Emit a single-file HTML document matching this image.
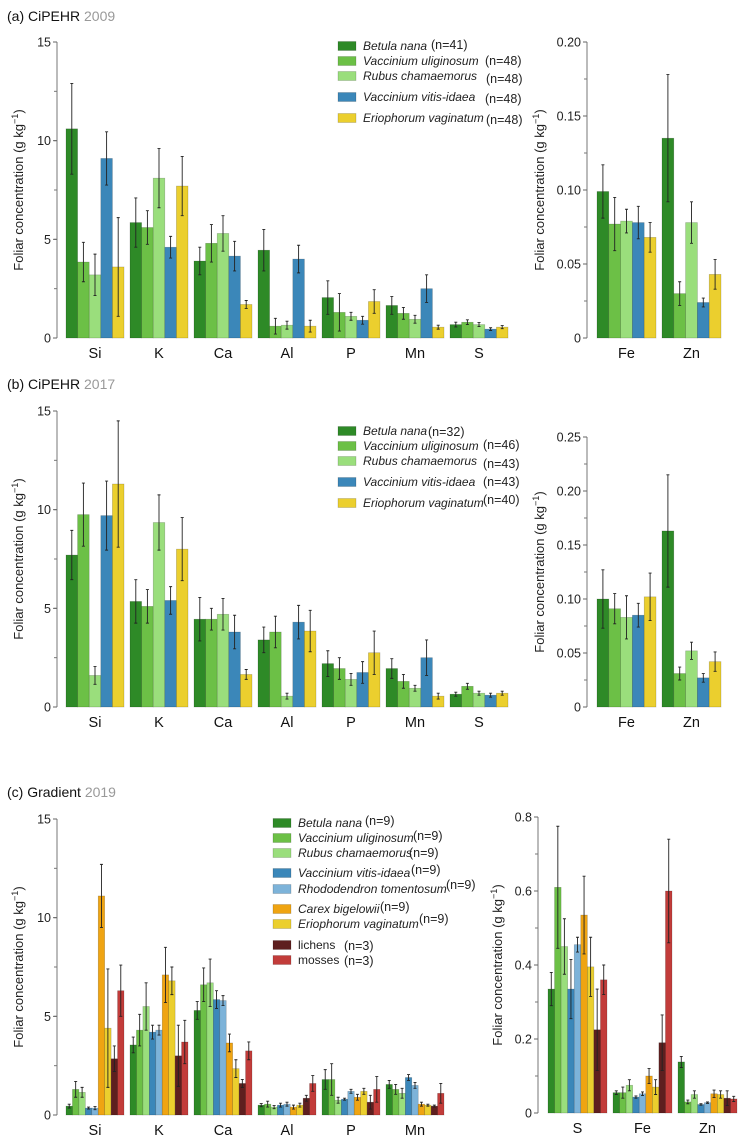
<!DOCTYPE html>
<html><head><meta charset="utf-8">
<style>
html,body{margin:0;padding:0;background:#fff;}
svg{display:block;font-family:"Liberation Sans","DejaVu Sans",sans-serif;}
</style></head>
<body>
<svg id="chart" width="746" height="1143" viewBox="0 0 746 1143" xmlns="http://www.w3.org/2000/svg">
<text x="7" y="21" font-size="14" fill="#111">(a) CiPEHR <tspan fill="#999">2009</tspan></text>
<text x="7" y="389" font-size="14" fill="#111">(b) CiPEHR <tspan fill="#999">2017</tspan></text>
<text x="7" y="797" font-size="14" fill="#111">(c) Gradient <tspan fill="#999">2019</tspan></text>
</svg>
<script>
// ---------- data ----------
const leftCats = ["Si","K","Ca","Al","P","Mn","S"];
const rightCatsAB = ["Fe","Zn"];
const leftCatsC = ["Si","K","Ca","Al","P","Mn"];
const rightCatsC = ["S","Fe","Zn"];
const speciesAB = ["Betula nana","Vaccinium uliginosum","Rubus chamaemorus","Vaccinium vitis-idaea","Eriophorum vaginatum"];
const speciesC = ["Betula nana","Vaccinium uliginosum","Rubus chamaemorus","Vaccinium vitis-idaea","Rhododendron tomentosum","Carex bigelowii","Eriophorum vaginatum","lichens","mosses"];
const colorsAB = ["#2e8a27","#6cc046","#9ade7c","#3b87b9","#ebcf2e"];
const colorsC = ["#2e8a27","#6cc046","#9ade7c","#3b87b9","#7db3d9","#efa412","#ebcf2e","#5e1f1f","#c23c3a"];

// (a) 2009 — rows = categories, cols = species
const aLeftVals = [[10.6,3.85,3.2,9.1,3.6],[5.85,5.6,8.1,4.6,7.7],[3.9,4.8,5.3,4.15,1.7],[4.45,0.6,0.65,4.0,0.6],[2.05,1.3,1.1,0.9,1.85],[1.65,1.25,0.95,2.5,0.55],[0.68,0.8,0.68,0.45,0.55]];
const aLeftErrs = [[2.3,1.0,1.05,1.35,2.5],[1.25,0.85,1.5,0.55,1.5],[0.7,0.95,0.9,0.75,0.2],[1.05,0.4,0.2,0.7,0.3],[0.85,0.95,0.2,0.2,0.6],[0.45,0.3,0.2,0.7,0.1],[0.12,0.12,0.1,0.07,0.08]];
const aRightVals = [[0.099,0.077,0.079,0.078,0.068],[0.135,0.030,0.078,0.024,0.043]];
const aRightErrs = [[0.018,0.018,0.008,0.011,0.010],[0.043,0.008,0.014,0.003,0.010]];
const aN = ["(n=41)","(n=48)","(n=48)","(n=48)","(n=48)"];

// (b) 2017
const bLeftVals = [[7.7,9.75,1.6,9.7,11.3],[5.35,5.1,9.35,5.4,8.0],[4.45,4.45,4.7,3.8,1.65],[3.4,3.8,0.55,4.3,3.85],[2.2,1.95,1.4,1.75,2.75],[1.95,1.3,0.95,2.5,0.55],[0.65,1.05,0.7,0.6,0.7]];
const bLeftErrs = [[1.25,1.6,0.45,1.75,3.2],[1.1,0.85,1.4,0.7,1.6],[1.1,0.55,0.8,0.85,0.25],[0.65,0.8,0.15,0.85,1.05],[0.65,0.55,0.3,0.55,1.1],[0.5,0.35,0.15,0.9,0.15],[0.1,0.15,0.1,0.1,0.1]];
const bRightVals = [[0.100,0.091,0.083,0.085,0.102],[0.163,0.031,0.052,0.027,0.042]];
const bRightErrs = [[0.027,0.014,0.020,0.011,0.022],[0.052,0.006,0.008,0.004,0.009]];
const bN = ["(n=32)","(n=46)","(n=43)","(n=43)","(n=40)"];

// (c) 2019
const cLeftVals = [[0.45,1.3,1.15,0.35,0.35,11.1,4.4,2.85,6.3],[3.55,4.3,5.5,4.2,4.3,7.1,6.8,3.0,3.7],[5.3,6.6,6.7,5.85,5.8,3.65,2.35,1.6,3.25],[0.5,0.55,0.4,0.5,0.55,0.4,0.5,0.85,1.6],[1.8,1.8,0.75,0.8,1.2,0.9,1.2,0.65,1.3],[1.55,1.3,1.1,1.9,1.5,0.55,0.5,0.45,1.1]];
const cLeftErrs = [[0.1,0.4,0.25,0.05,0.08,1.6,3.0,0.65,1.3],[0.4,0.8,1.2,0.35,0.25,1.4,0.7,1.55,1.1],[0.45,0.85,1.2,0.45,0.25,0.45,0.45,0.2,0.45],[0.08,0.15,0.08,0.1,0.1,0.1,0.1,0.15,0.4],[0.5,0.8,0.15,0.05,0.1,0.15,0.15,0.35,0.65],[0.2,0.25,0.25,0.15,0.15,0.1,0.05,0.05,0.5]];
const cRightVals = [[0.335,0.61,0.45,0.335,0.455,0.535,0.395,0.225,0.36],[0.055,0.055,0.075,0.043,0.052,0.10,0.07,0.19,0.60],[0.138,0.03,0.05,0.023,0.028,0.052,0.05,0.04,0.038]];
const cRightErrs = [[0.045,0.165,0.075,0.08,0.02,0.105,0.08,0.11,0.04],[0.005,0.015,0.015,0.003,0.005,0.02,0.02,0.075,0.14],[0.015,0.005,0.01,0.002,0.002,0.01,0.01,0.02,0.007]];
const cN = ["(n=9)","(n=9)","(n=9)","(n=9)","(n=9)","(n=9)","(n=9)","(n=3)","(n=3)"];

const leftTicks = [0,5,10,15];
const aRightTicks = [0,0.05,0.10,0.15,0.20];
const aRightTickLabels = ["0","0.05","0.10","0.15","0.20"];
const bRightTicks = [0,0.05,0.10,0.15,0.20,0.25];
const bRightTickLabels = ["0","0.05","0.10","0.15","0.20","0.25"];
const cRightTicks = [0,0.2,0.4,0.6,0.8];
const cRightTickLabels = ["0","0.2","0.4","0.6","0.8"];

// ---------- drawing ----------
const NS = "http://www.w3.org/2000/svg";
const svg = document.getElementById("chart");
function mk(tag, attrs, parent){
  const e = document.createElementNS(NS, tag);
  for (const k in attrs) e.setAttribute(k, attrs[k]);
  (parent||svg).appendChild(e);
  return e;
}

function panel(p){
  const g = mk("g", {});
  
  
  const yScale = v => p.y0 - (v / p.max) * (p.y0 - p.yTop);
  const ax = mk("line", {x1:p.ax, x2:p.ax, y1:p.yTop, y2:p.y0, stroke:"#777", "stroke-width":1}, g);
  
  
  for (let v = 0; v <= p.max + 1e-9; v += p.minor){
    mk("line", {x1:p.ax-3, x2:p.ax, y1:yScale(v), y2:yScale(v), stroke:"#777", "stroke-width":1}, g);
  }
  p.ticks.forEach((t,i) => {
    mk("line", {x1:p.ax-4, x2:p.ax, y1:yScale(t), y2:yScale(t), stroke:"#666", "stroke-width":1}, g);
    const tl = mk("text", {x:p.ax-6, y:yScale(t)+p.fs*0.36, "font-size":p.fs, "text-anchor":"end", fill:"#222"}, g);
    tl.textContent = p.tickLabels[i];
    
    
  });
  const midY = (p.yTop + p.y0) / 2;
  const yt = mk("text", {x:p.ytx, y:midY, "font-size":p.tfs, "text-anchor":"middle", fill:"#222", transform:`rotate(-90 ${p.ytx} ${midY})`}, g);
  
  
  yt.appendChild(document.createTextNode("Foliar concentration (g kg"));
  const sup = mk("tspan", {"font-size":p.tfs*0.7, dy:-p.tfs*0.4}, yt); sup.textContent = "−1";
  const cl = mk("tspan", {dy:p.tfs*0.4}, yt); cl.textContent = ")";
  const nS = p.colors.length;
  const bw = p.gw / nS;
  p.cats.forEach((c, ci) => {
    const gx = p.gx + ci * p.pitch;
    p.vals[ci].forEach((v, si) => {
      const x = gx + si * bw;
      const y = yScale(v);
      const r = mk("rect", {x:x, y:y, width:bw, height:p.y0 - y, fill:p.colors[si], stroke:"rgba(0,0,0,0.25)", "stroke-width":0.6}, g);
      
      
      const e = p.errs[ci][si];
      const cx = x + bw/2;
      const eb = mk("path", {d:`M${cx} ${yScale(v+e)}V${yScale(Math.max(0,v-e))}M${cx-1.5} ${yScale(v+e)}H${cx+1.5}M${cx-1.5} ${yScale(Math.max(0,v-e))}H${cx+1.5}`, stroke:"#222", "stroke-width":0.9, fill:"none"}, g);
      
      
    });
    const xl = mk("text", {x:gx + p.gw/2, y:p.y0 + p.xlo, "font-size":p.xfs, "text-anchor":"middle", fill:"#111"}, g);
    xl.textContent = c;
    
    
  });
}

function legend(name, entries, colors, ns, rows, nx, ndy){
  const g = mk("g", {});
  
  
  entries.forEach((s, i) => {
    const y = rows[i];
    const sw = mk("rect", {x:rows.sx, y:y-4.5, width:18, height:9, fill:colors[i], stroke:"rgba(0,0,0,0.25)", "stroke-width":0.6}, g);
    
    
    const italic = !(s === "lichens" || s === "mosses");
    const t = mk("text", {x:rows.sx+25, y:y+4, "font-size":12, "font-style":italic?"italic":"normal", fill:"#222"}, g);
    t.textContent = s;
    
    
    const n = mk("text", {x:nx[i], y:y+4+ndy[i], "font-size":12.5, fill:"#222"}, g);
    n.textContent = ns[i];
    
    
  });
}

// (a)
panel({name:"panel-a-main", ax:57, yTop:42, y0:338, max:15, minor:2.5, ticks:leftTicks, tickLabels:leftTicks.map(String), fs:12.5, tfs:13, ytx:23,
  gx:66, pitch:64, gw:58, cats:leftCats, vals:aLeftVals, errs:aLeftErrs, colors:colorsAB, xlo:20, xfs:14.5});
panel({name:"panel-a-fe-zn", ax:587, yTop:42, y0:338, max:0.20, minor:0.025, ticks:aRightTicks, tickLabels:aRightTickLabels, fs:12.5, tfs:13, ytx:544,
  gx:597, pitch:65, gw:59, cats:rightCatsAB, vals:aRightVals, errs:aRightErrs, colors:colorsAB, xlo:20, xfs:14.5});
const aRows = [46,61,76,97,118]; aRows.sx = 338;
legend("legend-a", speciesAB, colorsAB, aN, aRows, [431,485,486,485,486], [-1,0,3,2,2]);

// (b)
panel({name:"panel-b-main", ax:57, yTop:411, y0:707, max:15, minor:2.5, ticks:leftTicks, tickLabels:leftTicks.map(String), fs:12.5, tfs:13, ytx:23,
  gx:66, pitch:64, gw:58, cats:leftCats, vals:bLeftVals, errs:bLeftErrs, colors:colorsAB, xlo:20, xfs:14.5});
panel({name:"panel-b-fe-zn", ax:587, yTop:437, y0:707, max:0.25, minor:0.025, ticks:bRightTicks, tickLabels:bRightTickLabels, fs:12.5, tfs:13, ytx:544,
  gx:597, pitch:65, gw:59, cats:rightCatsAB, vals:bRightVals, errs:bRightErrs, colors:colorsAB, xlo:20, xfs:14.5});
const bRows = [431,446,461,482,503]; bRows.sx = 338;
legend("legend-b", speciesAB, colorsAB, bN, bRows, [428,483,483,483,483], [1,-1,3,0,-3]);

// (c)
panel({name:"panel-c-main", ax:57, yTop:819, y0:1115, max:15, minor:2.5, ticks:leftTicks, tickLabels:leftTicks.map(String), fs:12.5, tfs:13, ytx:23,
  gx:66, pitch:64, gw:58, cats:leftCatsC, vals:cLeftVals, errs:cLeftErrs, colors:colorsC, xlo:20, xfs:14.5});
panel({name:"panel-c-s-fe-zn", ax:538, yTop:817, y0:1113, max:0.8, minor:0.1, ticks:cRightTicks, tickLabels:cRightTickLabels, fs:12.5, tfs:13, ytx:502,
  gx:548, pitch:65, gw:59, cats:rightCatsC, vals:cRightVals, errs:cRightErrs, colors:colorsC, xlo:20, xfs:14.5});
const cRows = [823,838,853,873,889,909,924,945,960]; cRows.sx = 273;
legend("legend-c", speciesC, colorsC, cN, cRows, [365,413,409,411,446,380,419,344,344], [-2,-2,0,-3,-4,-2,-5,1,1]);
</script>
</body></html>
